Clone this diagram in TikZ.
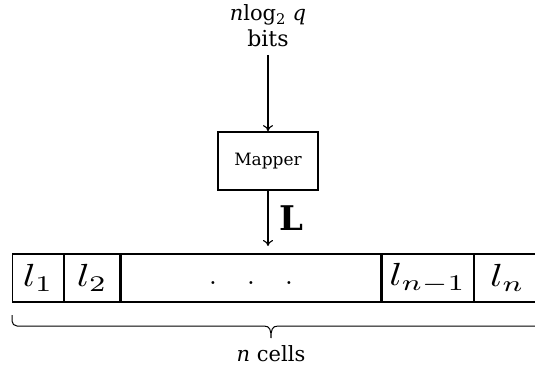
\documentclass[tikz,border=0pt]{standalone}
\usepackage{fontspec}
\setmainfont{DejaVu Serif}
\usetikzlibrary{arrows.meta}
\newcommand{\cellmath}[1]{\scalebox{4.1}[3.2]{$#1$}}
\begin{document}
\begin{tikzpicture}[x=1pt,y=-1pt,
  cellbox/.style={draw,line width=1.2pt,minimum height=48pt,inner sep=0pt,anchor=west},
  conn/.style={line width=1.1pt,-{To[length=6pt,width=10pt]}},
  lab/.style={font=\fontsize{21}{23}\selectfont}]
\useasboundingbox (0,0) rectangle (535,366);
\node[lab] (top1) at (268,15) {\textit{n}log\textsubscript{2} \textit{q}};
\node[lab,font=\fontsize{22}{24}\selectfont] (top2) at (268,38) {bits};
\coordinate (src) at (268,55);
\node[draw,line width=1.8pt,minimum width=100pt,minimum height=58pt,inner sep=0pt,font=\fontsize{17}{19}\selectfont] (map) at (268,161) {Mapper};
\coordinate (dst) at (268,246);
\draw[conn] (src) -- (map.north);
\draw[conn] (map.south) -- (dst);
\node (L) at (291,218) {\scalebox{3.4}{$\mathbf{L}$}};
\node[cellbox,minimum width=51pt] (c1) at (12,278) {\cellmath{l_1}};
\node[cellbox,minimum width=55pt] (c2) at (c1.east) {\cellmath{l_2}};
\node[cellbox,minimum width=260pt] (c3) at (c2.east) {};
\node[inner sep=0pt] (dots) at ([yshift=-5pt]c3.center) {\scalebox{2.8}{$.\hspace{10.8pt}.\hspace{10.8pt}.$}};
\node[cellbox,minimum width=91pt] (c4) at (c3.east) {\cellmath{l_{n-1}}};
\node[cellbox,minimum width=66pt] (c5) at (c4.east) {\cellmath{l_n}};
\draw[line width=1pt] (12,315) -- (12,321) arc[start angle=180,end angle=90,radius=5] -- (264,326)
  .. controls (270,326) and (271,330) .. (271,338)
  .. controls (271,330) and (272,326) .. (278,326) -- (535,326);
\node[lab] (cells) at (271,354) {\textit{n} cells};
\end{tikzpicture}
\end{document}
